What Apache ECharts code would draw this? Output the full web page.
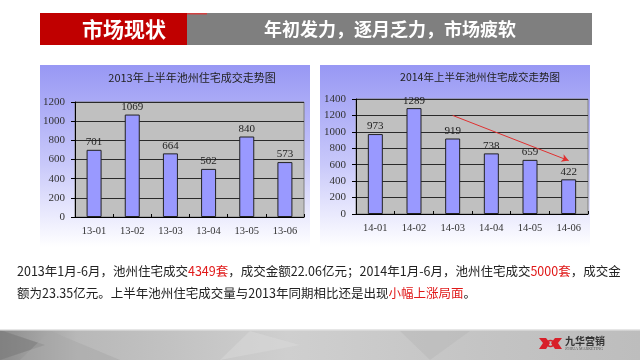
<!DOCTYPE html>
<html><head><meta charset="utf-8">
<script src="https://cdn.jsdelivr.net/npm/echarts@6/dist/echarts.min.js"></script>
<style>html,body{margin:0;padding:0;background:#fff}#c{width:640px;height:360px}</style>
</head><body><div id="c"></div>
<script>
const headerLeft = '市场现状';
const headerRight = '年初发力，逐月乏力，市场疲软';
const title2013 = '2013年上半年池州住宅成交走势图';
const title2014 = '2014年上半年池州住宅成交走势图';
const months2013 = ['13-01','13-02','13-03','13-04','13-05','13-06'];
const values2013 = [701,1069,664,502,840,573];
const months2014 = ['14-01','14-02','14-03','14-04','14-05','14-06'];
const values2014 = [973,1289,919,738,659,422];
const trendFrom = ['14-03', 1200];
const trendTo = ['14-06', 650];

const chart = echarts.init(document.getElementById('c'), null, {renderer:'canvas'});
const serif = '"Liberation Serif", serif';
const cjk = '"Noto Sans CJK SC", sans-serif';
const panelGrad = {type:'linear',x:0,y:0,x2:0,y2:1,colorStops:[{offset:0,color:'#9898f4'},{offset:0.55,color:'#c9c9fa'},{offset:1,color:'#ffffff'}]};

function yAxis(gi, max){
  return {gridIndex:gi, type:'value', min:0, max:max, interval:200,
    axisLine:{show:true, lineStyle:{color:'#000'}},
    axisTick:{show:true, length:4, lineStyle:{color:'#000'}},
    axisLabel:{color:'#333', fontFamily:serif, fontSize:11, margin:10, formatter:function(v){return String(v);}},
    splitLine:{lineStyle:{color:'#2a2a2a', width:1}}};
}
function xAxis(gi, cats){
  return {gridIndex:gi, type:'category', data:cats,
    axisLine:{show:true, lineStyle:{color:'#000'}},
    axisTick:{show:true, inside:true, length:3, lineStyle:{color:'#000'}},
    axisLabel:{color:'#333', fontFamily:serif, fontSize:10.5, margin:9}};
}
function bars(gi, vals){
  return {type:'bar', xAxisIndex:gi, yAxisIndex:gi, data:vals, barWidth:15,
    itemStyle:{color:'#9999ff', borderColor:'#222', borderWidth:1},
    label:{show:true, position:'top', distance:2, color:'#222', fontFamily:serif, fontSize:11}};
}

const s2 = bars(1, values2014);
s2.markLine = {silent:true, symbol:['none','arrow'], symbolSize:[6,7],
  lineStyle:{color:'#e03030', width:1, type:'solid'}, label:{show:false},
  data:[[{coord:trendFrom},{coord:trendTo}]]};

const option = {
  animation:false,
  grid:[
    {left:75, right:336, top:102, bottom:143, show:true, backgroundColor:'#c0c0c0', borderColor:'#808080', borderWidth:1},
    {left:356, right:52, top:99, bottom:146, show:true, backgroundColor:'#c0c0c0', borderColor:'#808080', borderWidth:1}
  ],
  xAxis:[xAxis(0, months2013), xAxis(1, months2014)],
  yAxis:[yAxis(0,1200), yAxis(1,1400)],
  series:[bars(0, values2013), s2],
  graphic:[
    {type:'rect', z:-10, shape:{x:40,y:65,width:270,height:182}, style:{fill:panelGrad}},
    {type:'rect', z:-10, shape:{x:320,y:65,width:270,height:182}, style:{fill:panelGrad}},
    {type:'text', x:192, y:78, style:{text:title2013, fill:'#222', font:'11px '+cjk, textAlign:'center', textVerticalAlign:'middle'}},
    {type:'text', x:480, y:77, style:{text:title2014, fill:'#222', font:'10.5px '+cjk, textAlign:'center', textVerticalAlign:'middle'}},
    // header
    {type:'rect', shape:{x:187,y:13,width:405,height:32}, style:{fill:'#7f7f7f'}},
    {type:'rect', shape:{x:40,y:13,width:147,height:32}, style:{fill:'#c00000'}},
    {type:'rect', shape:{x:187,y:13,width:20,height:1.5}, style:{fill:'#d04040'}},
    {type:'text', x:124, y:29, style:{text:headerLeft, fill:'#fff', font:'bold 21px '+cjk, textAlign:'center', textVerticalAlign:'middle'}},
    {type:'text', x:390, y:29, style:{text:headerRight, fill:'#fff', font:'bold 18px '+cjk, textAlign:'center', textVerticalAlign:'middle'}},
    // paragraph
    {type:'text', x:17, y:271, style:{
      text:'2013年1月-6月，池州住宅成交{r|4349套}，成交金额22.06亿元；2014年1月-6月，池州住宅成交{r|5000套}，成交金',
      fill:'#222', font:'12.5px '+cjk, textVerticalAlign:'middle',
      rich:{r:{fill:'#e01818', font:'12.5px '+cjk}}}},
    {type:'text', x:17, y:293, style:{
      text:'额为23.35亿元。上半年池州住宅成交量与2013年同期相比还是出现{r|小幅上涨局面}。',
      fill:'#222', font:'12.5px '+cjk, textVerticalAlign:'middle',
      rich:{r:{fill:'#e01818', font:'12.5px '+cjk}}}},
    // footer
    {type:'rect', shape:{x:0,y:330,width:640,height:30}, style:{fill:{type:'linear',x:0,y:0,x2:1,y2:0,colorStops:[{offset:0,color:'#8c8c8c'},{offset:0.12,color:'#b8b8b8'},{offset:0.45,color:'#cfcfcf'},{offset:0.75,color:'#c4c4c4'},{offset:1,color:'#bdbdbd'}]}}},
    {type:'polygon', shape:{points:[[0,330],[45,345],[0,360]]}, style:{fill:'#7a7a7a', opacity:0.6}},
    {type:'polygon', shape:{points:[[50,331],[120,360],[20,360]]}, style:{fill:'#a8a8a8', opacity:0.5}},
    {type:'polygon', shape:{points:[[250,331],[300,345],[220,360]]}, style:{fill:'#dadada', opacity:0.5}},
    {type:'polygon', shape:{points:[[400,331],[470,331],[430,360]]}, style:{fill:'#b5b5b5', opacity:0.4}},
    {type:'rect', shape:{x:0,y:329,width:640,height:1.5}, style:{fill:'#e6e6e6'}},
    // logo
    {type:'polygon', shape:{points:[[539,338],[546,338],[550,343],[546,349],[539,349],[543,343]]}, style:{fill:'#d8202a'}},
    {type:'polygon', shape:{points:[[562,338],[555,338],[551,343],[555,349],[562,349],[558,343]]}, style:{fill:'#d8202a'}},
    {type:'circle', shape:{cx:550.5,cy:343.5,r:3}, style:{fill:'none', stroke:'#d8202a', lineWidth:1.5}},
    {type:'text', x:565, y:341, style:{text:'九华营销', fill:'#333', font:'bold 10px '+cjk, textVerticalAlign:'middle'}},
    {type:'text', x:565, y:348.5, style:{text:'JOHUA MARKETING', fill:'#555', font:'4px '+serif, textVerticalAlign:'middle'}}
  ]
};
chart.setOption(option);
</script></body></html>
